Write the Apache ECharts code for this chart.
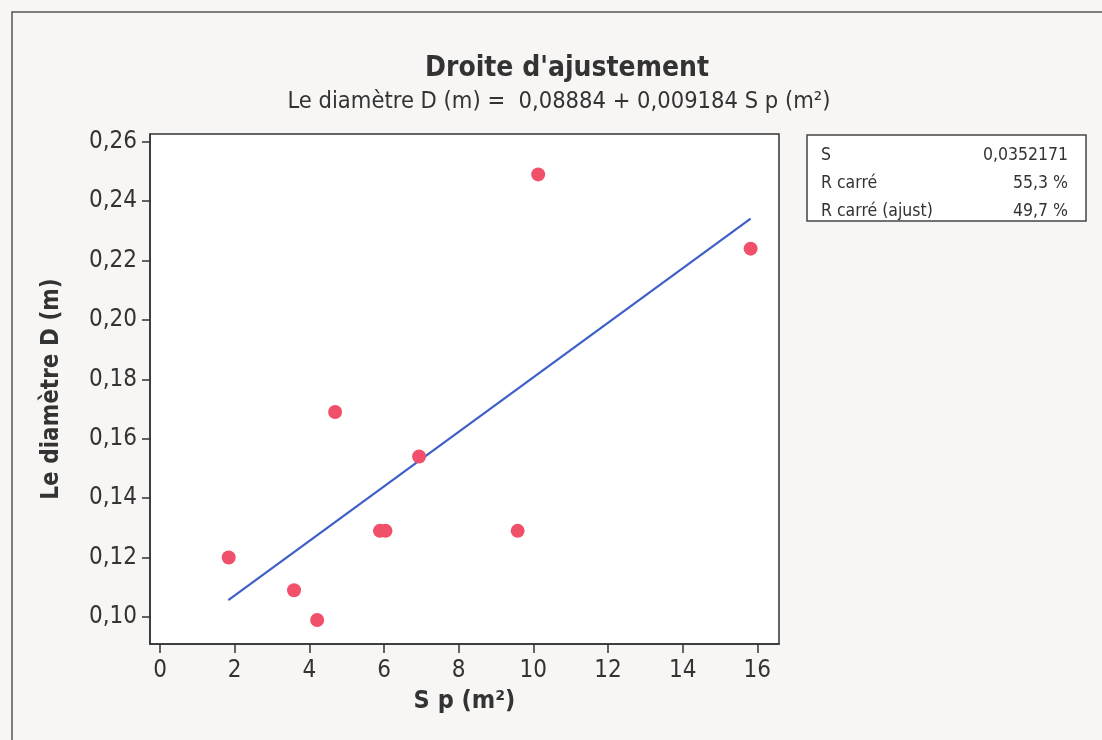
<!DOCTYPE html>
<html>
<head>
<meta charset="utf-8">
<script src="https://cdn.jsdelivr.net/npm/echarts@6/dist/echarts.min.js"></script>
<style>
html,body{margin:0;padding:0;background:#f8f6f5;}
#chart{width:1102px;height:740px;}
</style>
</head>
<body>
<div id="chart"></div>
<script>
// ---- data ----
var spValues = [1.84, 3.59, 4.21, 4.69, 5.89, 6.04, 6.94, 9.58, 10.13, 15.82];
var diamValues = [0.120, 0.109, 0.099, 0.169, 0.129, 0.129, 0.154, 0.129, 0.249, 0.224];
var fitX = [1.83, 15.82];
var fitY = [0.1057, 0.2341];
var xTicks = [0, 2, 4, 6, 8, 10, 12, 14, 16];
var yTicks = [0.10, 0.12, 0.14, 0.16, 0.18, 0.20, 0.22, 0.24, 0.26];
var statLabels = ['S', 'R carré', 'R carré (ajust)'];
var statValues = ['0,0352171', '55,3 %', '49,7 %'];
var titleText = "Droite d'ajustement";
var subtitleText = 'Le diamètre D (m) =  0,08884 + 0,009184 S p (m²)';
var xName = 'S p (m²)';
var yName = 'Le diamètre D (m)';

var FONT = '"DejaVu Sans Condensed", "DejaVu Sans", sans-serif';
var TXT = '#333333';

var points = spValues.map(function (x, i) { return [x, diamValues[i]]; });
var fitLine = fitX.map(function (x, i) { return [x, fitY[i]]; });

var chart = echarts.init(document.getElementById('chart'));

var boxX = 807, boxY = 135, boxW = 279, boxH = 86, rowH = 28;
var boxChildren = [{
  type: 'rect',
  shape: { x: boxX, y: boxY, width: boxW, height: boxH },
  style: { fill: '#ffffff', stroke: '#444', lineWidth: 1.5 }
}];
statLabels.forEach(function (lab, i) {
  boxChildren.push({
    type: 'text',
    style: { x: boxX + 14, y: boxY + 20 + i * rowH, text: lab, fill: TXT,
      font: '17.5px ' + FONT, textVerticalAlign: 'middle', textAlign: 'left' }
  });
  boxChildren.push({
    type: 'text',
    style: { x: boxX + boxW - 18, y: boxY + 20 + i * rowH, text: statValues[i], fill: TXT,
      font: '17.5px ' + FONT, textVerticalAlign: 'middle', textAlign: 'right' }
  });
});

var option = {
  backgroundColor: '#f8f6f5',
  animation: false,
  title: [
    { text: titleText, left: 562, textAlign: 'center', top: 50,
      textStyle: { fontFamily: FONT, fontSize: 28, fontWeight: 'bold', color: TXT } },
    { text: subtitleText, left: 554, textAlign: 'center', top: 85,
      textStyle: { fontFamily: FONT, fontSize: 23.5, fontWeight: 'normal', color: TXT } }
  ],
  grid: {
    left: 150, right: 323, top: 134, bottom: 96,
    show: true, backgroundColor: '#ffffff', borderColor: '#333', borderWidth: 1.5
  },
  xAxis: {
    type: 'value', min: -0.268, max: 16.58,
    name: xName, nameLocation: 'middle', nameGap: 45,
    nameTextStyle: { fontFamily: FONT, fontSize: 25, fontWeight: 'bold', color: TXT },
    axisLine: { show: true, onZero: false, lineStyle: { color: '#333', width: 1.5 } },
    splitLine: { show: false },
    axisTick: { show: true, inside: false, length: 9, customValues: xTicks, lineStyle: { color: '#333', width: 1.5 } },
    axisLabel: { customValues: xTicks, margin: 15, fontFamily: FONT, fontSize: 24, color: TXT }
  },
  yAxis: {
    type: 'value', min: 0.0909, max: 0.2626,
    name: yName, nameLocation: 'middle', nameGap: 86,
    nameTextStyle: { fontFamily: FONT, fontSize: 24, fontWeight: 'bold', color: TXT },
    axisLine: { show: true, onZero: false, lineStyle: { color: '#333', width: 1.5 } },
    splitLine: { show: false },
    axisTick: { show: true, inside: false, length: 8, customValues: yTicks, lineStyle: { color: '#333', width: 1.5 } },
    axisLabel: { customValues: yTicks, margin: 13, fontFamily: FONT, fontSize: 24, color: TXT,
      formatter: function (v) { return v.toFixed(2).replace('.', ','); } }
  },
  series: [
    { type: 'line', data: fitLine, symbol: 'none', silent: true,
      lineStyle: { color: '#3d5fc8', width: 2.2 }, z: 2 },
    { type: 'scatter', data: points, symbol: 'circle', symbolSize: 14,
      itemStyle: { color: '#f0506a', opacity: 1 }, z: 3 }
  ],
  graphic: [
    { type: 'rect', shape: { x: 12, y: 12, width: 1200, height: 800 },
      style: { fill: 'none', stroke: '#555', lineWidth: 1.5 }, silent: true, z: 0 },
    { type: 'group', children: boxChildren }
  ]
};
chart.setOption(option);
</script>
</body>
</html>
